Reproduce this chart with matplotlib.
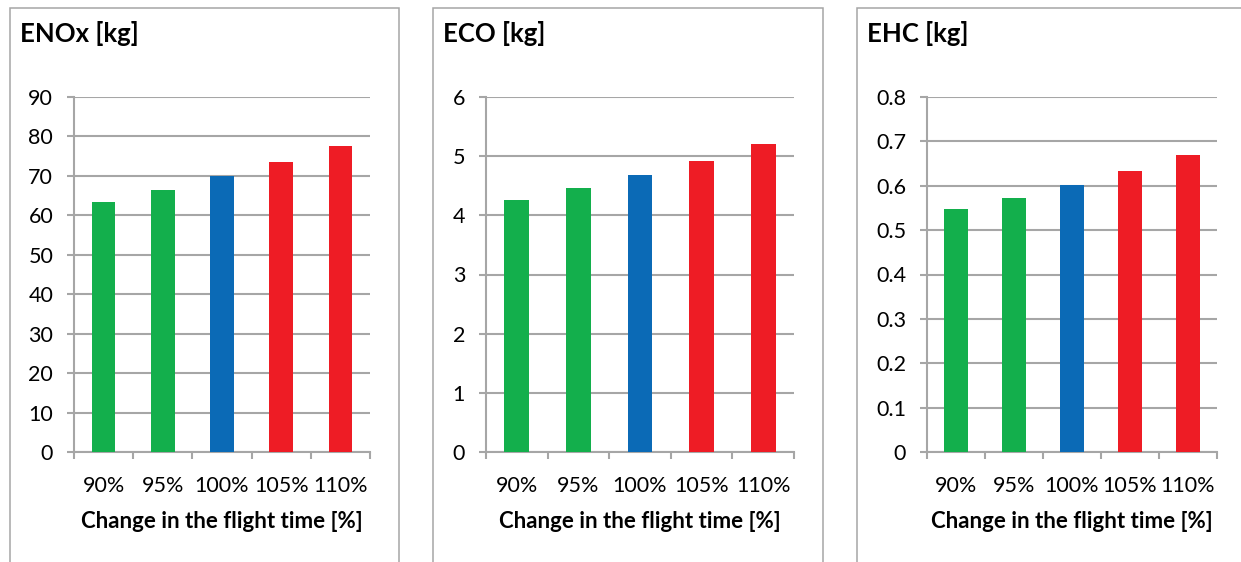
import matplotlib
matplotlib.use("Agg")
import matplotlib.pyplot as plt
from matplotlib.patches import Rectangle

plt.rcParams['font.family'] = ['Lato', 'DejaVu Sans']

categories = ["90%", "95%", "100%", "105%", "110%"]
enox = [63.4, 66.4, 70.0, 73.6, 77.6]
eco = [4.26, 4.46, 4.68, 4.92, 5.20]
ehc = [0.548, 0.572, 0.601, 0.633, 0.669]
titles = ["ENOx [kg]", "ECO [kg]", "EHC [kg]"]
xlabel = "Change in the flight time [%]"
bar_colors = ["#13AF4C", "#13AF4C", "#0B6AB6", "#EE1C25", "#EE1C25"]
yticks_list = [
    [0, 10, 20, 30, 40, 50, 60, 70, 80, 90],
    [0, 1, 2, 3, 4, 5, 6],
    [0, 0.1, 0.2, 0.3, 0.4, 0.5, 0.6, 0.7, 0.8],
]
ytick_labels = [
    [str(v) for v in yticks_list[0]],
    [str(v) for v in yticks_list[1]],
    ["0", "0.1", "0.2", "0.3", "0.4", "0.5", "0.6", "0.7", "0.8"],
]
series = [enox, eco, ehc]

W, H = 1241, 562
fig = plt.figure(figsize=(W / 100, H / 100), dpi=100)

grid_col = "#A6A6A6"

# panel frames (pixel coords: left, right)
frames = [(10, 399), (433, 823), (857, 1260)]
axes_px = [(74, 370), (486, 794), (927, 1217)]
title_x = [20, 443, 867]
top_px, bot_px = 97, 452

for i in range(3):
    fl, fr = frames[i]
    fig.add_artist(Rectangle((fl / W, -0.01), (fr - fl) / W, (H - 8) / H + 0.01,
                             transform=fig.transFigure, fill=False,
                             edgecolor="#A6A6A6", linewidth=1.1))
    al, ar = axes_px[i]
    ax = fig.add_axes([al / W, 1 - bot_px / H, (ar - al) / W, (bot_px - top_px) / H])
    x = list(range(len(categories)))
    ax.bar(x, series[i], width=0.4, color=bar_colors, zorder=3)
    yt = yticks_list[i]
    ax.set_ylim(0, yt[-1])
    ax.set_xlim(-0.5, len(categories) - 0.5)
    ax.set_yticks(yt)
    ax.set_yticklabels(ytick_labels[i])
    ax.set_xticks(x)
    ax.set_xticklabels(categories)
    ax.set_xticks([k - 0.5 for k in range(len(categories) + 1)], minor=True)
    for v in yt:
        ax.axhline(v, color=grid_col, linewidth=1.5, zorder=1)
    for s in ["top", "right"]:
        ax.spines[s].set_visible(False)
    ax.spines["left"].set_color(grid_col)
    ax.spines["left"].set_linewidth(1.5)
    ax.spines["bottom"].set_color(grid_col)
    ax.spines["bottom"].set_linewidth(1.5)
    ax.tick_params(axis="y", length=5, width=1.5, color=grid_col, pad=10,
                   labelsize=15.5, labelcolor="black")
    ax.tick_params(axis="x", which="major", length=0, pad=17, labelsize=15.5,
                   labelcolor="black")
    ax.tick_params(axis="x", which="minor", length=5, width=1.5, color=grid_col)
    fig.text(title_x[i] / W, 1 - 34 / H, titles[i], fontsize=18.5, fontweight="bold",
             ha="left", va="center")
    fig.text((al + ar) / 2 / W, 1 - 521 / H, xlabel, fontsize=16, fontweight="bold",
             ha="center", va="center")

fig.savefig("out.png", dpi=100)
